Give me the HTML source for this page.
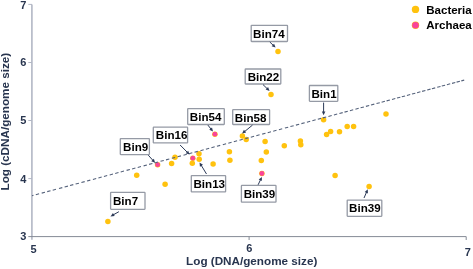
<!DOCTYPE html>
<html><head><meta charset="utf-8"><style>
html,body{margin:0;padding:0;background:#fff;width:473px;height:269px;overflow:hidden}
svg{display:block;will-change:transform}
text{font-family:"Liberation Sans",sans-serif;font-weight:bold}
.tk{font-size:11px;fill:#28354f}
.ttl{font-size:11.7px;fill:#28354f}
.bl{font-size:11.6px;fill:#000}
.lg{font-size:11.5px;fill:#000}
</style></head><body>
<svg width="473" height="269" viewBox="0 0 473 269">
<line x1="31.9" y1="4.4" x2="31.9" y2="239.8" stroke="#b2b7c5" stroke-width="1.6"/>
<line x1="28.3" y1="4.4" x2="32" y2="4.4" stroke="#b2b7c5" stroke-width="1"/>
<line x1="28.3" y1="62.5" x2="32" y2="62.5" stroke="#b2b7c5" stroke-width="1"/>
<line x1="28.3" y1="120.5" x2="32" y2="120.5" stroke="#b2b7c5" stroke-width="1"/>
<line x1="28.3" y1="178.6" x2="32" y2="178.6" stroke="#b2b7c5" stroke-width="1"/>
<path d="M28.3 236.6H466.2V240" fill="none" stroke="#858b96" stroke-width="1"/>
<line x1="249.1" y1="236.6" x2="249.1" y2="240" stroke="#858b96" stroke-width="1"/>
<text x="26.4" y="8.8" text-anchor="end" class="tk">7</text>
<text x="26.4" y="66.2" text-anchor="end" class="tk">6</text>
<text x="26.4" y="124.4" text-anchor="end" class="tk">5</text>
<text x="26.4" y="182.5" text-anchor="end" class="tk">4</text>
<text x="26.4" y="240.2" text-anchor="end" class="tk">3</text>
<text x="33.6" y="253.0" text-anchor="middle" class="tk">5</text>
<text x="249.2" y="252.4" text-anchor="middle" class="tk">6</text>
<text x="467.8" y="255.8" text-anchor="middle" class="tk">7</text>
<text x="251.7" y="264.8" text-anchor="middle" class="ttl">Log (DNA/genome size)</text>
<text transform="translate(8.7 121.65) rotate(-90)" text-anchor="middle" class="ttl">Log (cDNA/genome size)</text>
<circle cx="278" cy="51.6" r="2.75" fill="#ffc20e"/>
<circle cx="271" cy="94.4" r="2.75" fill="#ffc20e"/>
<circle cx="175" cy="157.2" r="2.75" fill="#ffc20e"/>
<circle cx="171.6" cy="163.5" r="2.75" fill="#ffc20e"/>
<circle cx="192.3" cy="163.3" r="2.75" fill="#ffc20e"/>
<circle cx="199" cy="153.8" r="2.75" fill="#ffc20e"/>
<circle cx="199.2" cy="159.3" r="2.75" fill="#ffc20e"/>
<circle cx="213.1" cy="164.1" r="2.75" fill="#ffc20e"/>
<circle cx="242.4" cy="135.9" r="2.75" fill="#ffc20e"/>
<circle cx="246.2" cy="139.5" r="2.75" fill="#ffc20e"/>
<circle cx="229.4" cy="151.7" r="2.75" fill="#ffc20e"/>
<circle cx="229.9" cy="160.2" r="2.75" fill="#ffc20e"/>
<circle cx="265.1" cy="141.4" r="2.75" fill="#ffc20e"/>
<circle cx="266.3" cy="151.9" r="2.75" fill="#ffc20e"/>
<circle cx="261.3" cy="160.4" r="2.75" fill="#ffc20e"/>
<circle cx="284.3" cy="145.7" r="2.75" fill="#ffc20e"/>
<circle cx="300.4" cy="141.0" r="2.75" fill="#ffc20e"/>
<circle cx="300.8" cy="144.7" r="2.75" fill="#ffc20e"/>
<circle cx="323.6" cy="119.8" r="2.75" fill="#ffc20e"/>
<circle cx="330.6" cy="131.5" r="2.75" fill="#ffc20e"/>
<circle cx="326.6" cy="134.5" r="2.75" fill="#ffc20e"/>
<circle cx="339.5" cy="131.7" r="2.75" fill="#ffc20e"/>
<circle cx="347.2" cy="126.5" r="2.75" fill="#ffc20e"/>
<circle cx="353.6" cy="126.4" r="2.75" fill="#ffc20e"/>
<circle cx="386.0" cy="114.1" r="2.75" fill="#ffc20e"/>
<circle cx="335.1" cy="175.6" r="2.75" fill="#ffc20e"/>
<circle cx="369.1" cy="186.6" r="2.75" fill="#ffc20e"/>
<circle cx="136.7" cy="175.2" r="2.75" fill="#ffc20e"/>
<circle cx="165.1" cy="184.3" r="2.75" fill="#ffc20e"/>
<circle cx="107.9" cy="221.4" r="2.75" fill="#ffc20e"/>
<circle cx="157.6" cy="164.7" r="2.75" fill="#ffc20e"/>
<circle cx="157.6" cy="164.7" r="2.4" fill="#f9449a"/>
<circle cx="192.8" cy="158.2" r="2.75" fill="#ffc20e"/>
<circle cx="192.8" cy="158.2" r="2.4" fill="#f9449a"/>
<circle cx="214.9" cy="134.2" r="2.75" fill="#ffc20e"/>
<circle cx="214.9" cy="134.2" r="2.4" fill="#f9449a"/>
<circle cx="261.9" cy="173.5" r="2.75" fill="#ffc20e"/>
<circle cx="261.9" cy="173.5" r="2.4" fill="#f9449a"/>
<path d="M32 195.70L33.5 195.30M35.80 194.68L39.10 193.80M41.70 193.11L45.00 192.22M47.20 191.63L50.50 190.75M52.70 190.16L56.00 189.28M59.00 188.48L62.30 187.60M64.60 186.98L67.90 186.10M70.00 185.54L73.30 184.65M75.60 184.04L78.90 183.16M81.40 182.49L84.70 181.60M87.00 180.99L90.30 180.11M92.90 179.41L96.20 178.53M98.40 177.94L101.70 177.06M103.90 176.47L107.20 175.59M109.70 174.92L113.00 174.04M115.20 173.45L118.50 172.56M120.70 171.98L124.00 171.09M126.60 170.40L129.90 169.51M132.10 168.93L135.40 168.04M137.70 167.43L141.00 166.55M143.60 165.85L146.90 164.97M149.10 164.38L152.40 163.50M154.60 162.91L157.90 162.03M160.50 161.33L163.80 160.45M166.00 159.86L169.30 158.98M171.80 158.31L175.10 157.43M177.60 156.76L180.90 155.87M183.50 155.18L186.80 154.30M189.00 153.71L192.30 152.82M194.50 152.24L197.80 151.35M200.40 150.66L203.70 149.78M205.90 149.19L209.20 148.30M211.40 147.72L214.70 146.83M216.90 146.25L220.20 145.36M222.80 144.67L226.10 143.78M228.30 143.20L231.60 142.31M233.80 141.72L237.10 140.84M239.50 140.20L242.80 139.32M245.30 138.65L248.60 137.77M250.80 137.18L254.10 136.30M256.30 135.71L259.60 134.82M262.20 134.13L265.50 133.25M267.70 132.66L271.00 131.77M273.20 131.19L276.50 130.30M278.90 129.66L282.20 128.78M284.90 128.06L288.20 127.17M290.40 126.59L293.70 125.70M295.90 125.11L299.20 124.23M301.40 123.64L304.70 122.76M306.90 122.17L310.20 121.29M312.35 120.72L315.65 119.83M317.80 119.26L321.10 118.37M322.90 117.89L326.20 117.01M328.40 116.42L331.70 115.54M333.90 114.95L337.20 114.07M339.40 113.48L342.70 112.60M344.50 112.12L347.80 111.23M349.90 110.67L353.20 109.79M355.40 109.20L358.70 108.32M360.60 107.81L363.90 106.93M365.90 106.39L369.20 105.51M371.00 105.03L374.30 104.15M376.50 103.56L379.80 102.67M381.60 102.19L384.90 101.31M386.60 100.86L389.90 99.97M392.00 99.41L395.30 98.53M397.00 98.07L400.30 97.19M401.80 96.79L405.10 95.91M406.90 95.43L410.20 94.54M412.00 94.06L415.30 93.18M417.10 92.70L420.40 91.82M422.10 91.36L425.40 90.48M427.20 90.00L430.50 89.11M431.90 88.74L435.20 87.86M437.20 87.32L440.50 86.44M441.80 86.09L445.10 85.21M446.90 84.73L450.20 83.84M452.00 83.36L455.30 82.48M456.60 82.13L459.90 81.25M461.30 80.88L464.20 80.10" stroke="#55627b" stroke-width="1.1" fill="none"/>
<rect x="251.2" y="25.3" width="36.3" height="16.2" rx="0.5" fill="#fff" stroke="#959aa5" stroke-width="1.3"/>
<text x="253.1" y="37.9" class="bl">Bin74</text>
<line x1="269.8" y1="42.0" x2="273.59" y2="45.66" stroke="#2c3a58" stroke-width="1"/>
<path d="M275.60 47.60L271.65 46.22L274.08 43.70Z" fill="#2c3a58"/>
<rect x="245.2" y="69" width="35.6" height="15.0" rx="0.5" fill="#fff" stroke="#959aa5" stroke-width="1.3"/>
<text x="247.7" y="81.1" class="bl">Bin22</text>
<line x1="263" y1="84.6" x2="267.59" y2="89.05" stroke="#2c3a58" stroke-width="1"/>
<path d="M269.60 91.00L265.65 89.61L268.09 87.10Z" fill="#2c3a58"/>
<rect x="309.4" y="85.5" width="28.4" height="15.8" rx="0.5" fill="#fff" stroke="#959aa5" stroke-width="1.3"/>
<text x="311.5" y="97.6" class="bl">Bin1</text>
<line x1="323.6" y1="102.6" x2="323.60" y2="112.40" stroke="#2c3a58" stroke-width="1"/>
<path d="M323.60 115.20L321.85 111.40L325.35 111.40Z" fill="#2c3a58"/>
<rect x="120.3" y="138.6" width="29.1" height="16.0" rx="0.5" fill="#fff" stroke="#959aa5" stroke-width="1.3"/>
<text x="123.1" y="150.8" class="bl">Bin9</text>
<line x1="148.3" y1="155.2" x2="153.23" y2="160.71" stroke="#2c3a58" stroke-width="1"/>
<path d="M155.10 162.80L151.26 161.13L153.87 158.80Z" fill="#2c3a58"/>
<rect x="153.3" y="127.2" width="34.3" height="15.7" rx="0.5" fill="#fff" stroke="#959aa5" stroke-width="1.3"/>
<text x="155.8" y="139.2" class="bl">Bin16</text>
<line x1="180.1" y1="145" x2="187.63" y2="152.61" stroke="#2c3a58" stroke-width="1"/>
<path d="M189.60 154.60L185.68 153.13L188.17 150.67Z" fill="#2c3a58"/>
<rect x="187.7" y="108.6" width="36.6" height="15.9" rx="0.5" fill="#fff" stroke="#959aa5" stroke-width="1.3"/>
<text x="189.8" y="120.5" class="bl">Bin54</text>
<line x1="207.9" y1="125.1" x2="211.27" y2="129.40" stroke="#2c3a58" stroke-width="1"/>
<path d="M213.00 131.60L209.28 129.69L212.03 127.53Z" fill="#2c3a58"/>
<rect x="232.7" y="109.7" width="36.9" height="14.8" rx="0.5" fill="#fff" stroke="#959aa5" stroke-width="1.3"/>
<text x="234.8" y="121.5" class="bl">Bin58</text>
<line x1="252.5" y1="125.1" x2="244.27" y2="131.83" stroke="#2c3a58" stroke-width="1"/>
<path d="M242.10 133.60L243.93 129.84L246.15 132.55Z" fill="#2c3a58"/>
<rect x="191.3" y="175.6" width="34.3" height="16.3" rx="0.5" fill="#fff" stroke="#959aa5" stroke-width="1.3"/>
<text x="193.5" y="187.8" class="bl">Bin13</text>
<line x1="206.5" y1="174" x2="200.96" y2="164.89" stroke="#2c3a58" stroke-width="1"/>
<path d="M199.50 162.50L202.97 164.84L199.98 166.66Z" fill="#2c3a58"/>
<rect x="241.4" y="185.4" width="34.6" height="16.8" rx="0.5" fill="#fff" stroke="#959aa5" stroke-width="1.3"/>
<text x="243.7" y="198.1" class="bl">Bin39</text>
<line x1="258.1" y1="184.8" x2="260.69" y2="179.42" stroke="#2c3a58" stroke-width="1"/>
<path d="M261.90 176.90L261.83 181.08L258.68 179.57Z" fill="#2c3a58"/>
<rect x="347.2" y="200.1" width="34.6" height="16.2" rx="0.5" fill="#fff" stroke="#959aa5" stroke-width="1.3"/>
<text x="349.1" y="212.4" class="bl">Bin39</text>
<line x1="364" y1="198" x2="366.68" y2="191.87" stroke="#2c3a58" stroke-width="1"/>
<path d="M367.80 189.30L367.88 193.48L364.68 192.08Z" fill="#2c3a58"/>
<rect x="110.6" y="192.4" width="34.4" height="16.9" rx="0.5" fill="#fff" stroke="#959aa5" stroke-width="1.3"/>
<text x="113.0" y="204.8" class="bl">Bin7</text>
<line x1="118.9" y1="211.7" x2="112.94" y2="215.03" stroke="#2c3a58" stroke-width="1"/>
<path d="M110.50 216.40L112.96 213.02L114.67 216.07Z" fill="#2c3a58"/>
<circle cx="415.5" cy="9.4" r="3.7" fill="#ffc20e"/>
<circle cx="415.5" cy="25.2" r="3.7" fill="#ffc20e"/>
<circle cx="415.5" cy="25.2" r="3.3" fill="#f9449a"/>
<text x="426.3" y="13.6" class="lg">Bacteria</text>
<text x="426.3" y="29.1" class="lg">Archaea</text>
</svg>
</body></html>
